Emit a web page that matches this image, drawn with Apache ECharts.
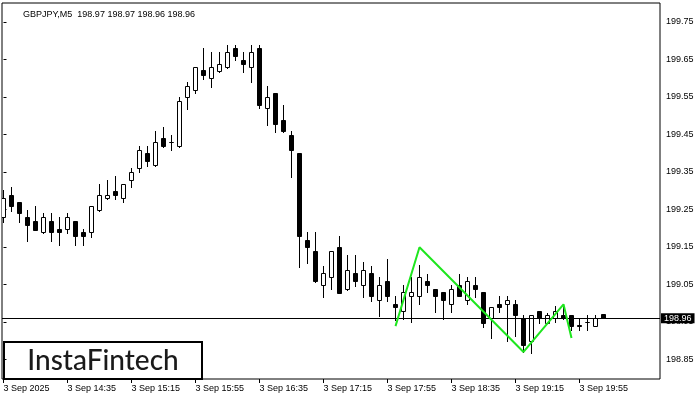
<!DOCTYPE html>
<html>
<head>
<meta charset="utf-8">
<script src="https://cdn.jsdelivr.net/npm/echarts@6/dist/echarts.min.js"></script>
<style>
html,body{margin:0;padding:0;background:#fff;}
#c{width:700px;height:400px;}
</style>
</head>
<body>
<div id="c"></div>
<script>
const symbol = 'GBPJPY,M5';
const xTickLabels = ['3 Sep 2025','3 Sep 14:35','3 Sep 15:15','3 Sep 15:55','3 Sep 16:35','3 Sep 17:15','3 Sep 17:55','3 Sep 18:35','3 Sep 19:15','3 Sep 19:55'];
const yTickValues = [198.85, 198.95, 199.05, 199.15, 199.25, 199.35, 199.45, 199.55, 199.65, 199.75];

const open = [199.229,199.288,199.269,199.229,199.219,199.189,199.219,199.197,199.197,199.219,
199.189,199.189,199.247,199.279,199.298,199.279,199.327,199.359,199.399,199.366,
199.439,199.429,199.417,199.549,199.567,199.619,199.599,199.617,199.629,199.679,
199.648,199.629,199.679,199.518,199.559,199.488,199.448,199.399,199.168,199.139,
199.046,199.069,199.149,199.037,199.079,199.046,199.079,199.006,199.059,198.997,
198.977,199.019,199.019,199.059,199.037,199.029,198.997,199.048,199.008,199.048,
199.029,198.959,198.997,198.997,198.997,198.959,198.899,198.979,198.947,198.959,
198.968,198.968,198.940,198.949,198.939,198.97];
const high = [199.301,199.310,199.270,199.248,199.259,199.241,199.241,199.230,199.241,199.220,
199.197,199.260,199.317,199.328,199.339,199.318,199.359,199.419,199.419,199.459,
199.469,199.447,199.549,199.589,199.629,199.679,199.669,199.669,199.688,199.688,
199.669,199.688,199.688,199.578,199.560,199.528,199.459,199.400,199.189,199.189,
199.099,199.140,199.179,199.128,199.128,199.109,199.099,199.069,199.119,199.019,
199.048,199.069,199.101,199.079,199.038,199.030,199.048,199.079,199.069,199.069,
199.030,198.990,199.019,199.019,199.008,198.968,198.969,198.980,198.975,198.992,
198.990,198.969,198.959,198.968,198.968,198.97];
const low = [199.217,199.246,199.217,199.166,199.194,199.188,199.166,199.155,199.188,199.155,
199.155,199.177,199.246,199.278,199.277,199.269,199.309,199.349,199.366,199.365,
199.416,199.408,199.416,199.518,199.559,199.598,199.577,199.616,199.628,199.648,
199.617,199.589,199.519,199.475,199.457,199.456,199.337,199.097,199.107,199.056,
199.017,199.037,199.026,199.036,199.046,199.017,199.006,198.965,199.006,198.955,
198.959,198.949,198.997,199.029,198.977,198.959,198.977,199.018,198.997,199.017,
198.937,198.907,198.977,198.899,198.912,198.870,198.867,198.947,198.946,198.949,
198.958,198.928,198.928,198.928,198.938,198.96];
const close = [199.279,199.257,199.238,199.206,199.195,199.229,199.189,199.189,199.229,199.177,
199.177,199.259,199.288,199.288,199.286,199.317,199.349,199.408,199.377,199.429,
199.417,199.428,199.538,199.578,199.629,199.606,199.629,199.637,199.669,199.657,
199.637,199.669,199.526,199.549,199.475,199.457,199.406,199.177,199.149,199.057,
199.079,199.139,199.027,199.088,199.057,199.088,199.017,199.048,199.017,198.988,
199.029,199.029,199.069,199.046,199.017,199.006,199.037,199.019,199.059,199.037,
198.947,198.989,198.989,199.008,198.966,198.886,198.968,198.959,198.968,198.979,
198.959,198.937,198.939,198.948,198.959,198.96];

// pattern line (bar index, price)
const patternIdx = [49, 52, 65, 70, 71];
const patternPrice = [198.939, 199.149, 198.870, 198.997, 198.907];

const lastPrice = close[close.length - 1];
const candleData = open.map((o, i) => [i, o, close[i], low[i], high[i]]);
const patternData = patternIdx.map((k, i) => [k, patternPrice[i]]);
const last = open.length - 1;
const titleText = symbol + '  ' + [open[last], high[last], low[last], close[last]].map(v => v.toFixed(2)).join(' ');

const FONT = '"Liberation Sans", Arial, sans-serif';
const chart = echarts.init(document.getElementById('c'), null, {renderer: 'canvas'});

function renderCandle(params, api) {
  const k = api.value(0), o = api.value(1), c = api.value(2), l = api.value(3), h = api.value(4);
  const pO = api.coord([k, o]), pC = api.coord([k, c]);
  const pL = api.coord([k, l]), pH = api.coord([k, h]);
  const cx = Math.round(pO[0] - 0.5) + 0.5;
  const yTop = Math.round(Math.min(pO[1], pC[1]) - 0.5) + 0.5;
  const yBot = Math.round(Math.max(pO[1], pC[1]) - 0.5) + 0.5;
  const yH = Math.round(pH[1]);
  const yL = Math.round(pL[1]) + 1;
  const up = c >= o;
  return {
    type: 'group',
    children: [
      {type: 'line', shape: {x1: cx, y1: yH, x2: cx, y2: yL}, style: {stroke: '#000', lineWidth: 1}},
      {type: 'rect', shape: {x: cx - 2, y: yTop, width: 4, height: yBot - yTop},
       style: {fill: up ? '#fff' : '#000', stroke: '#000', lineWidth: 1}}
    ]
  };
}

chart.setOption({
  animation: false,
  backgroundColor: '#fff',
  title: {
    text: titleText, left: 18, top: 5,
    textStyle: {fontSize: 9, fontWeight: 'normal', color: '#000', fontFamily: FONT}
  },
  grid: {left: 2, right: 40, top: 3, bottom: 21, show: true, borderColor: '#000', borderWidth: 1, backgroundColor: 'transparent'},
  xAxis: {
    type: 'value', min: -0.1875, max: 82.0625,
    axisLine: {show: false}, splitLine: {show: false},
    axisTick: {show: true, customValues: xTickLabels.map((_, i) => i * 8), length: 4, lineStyle: {color: '#000'}},
    axisLabel: {
      customValues: xTickLabels.map((_, i) => i * 8),
      formatter: v => xTickLabels[Math.round(v / 8)],
      align: 'left', margin: 5, fontSize: 9, color: '#000', fontFamily: FONT
    }
  },
  yAxis: {
    type: 'value', position: 'right', min: 198.798, max: 199.8, scale: true,
    axisLine: {show: false}, splitLine: {show: false},
    axisTick: {show: true, customValues: yTickValues, length: 3, lineStyle: {color: '#000'}},
    axisLabel: {customValues: yTickValues, formatter: v => v.toFixed(2), margin: 6, fontSize: 9, color: '#000', fontFamily: FONT}
  },
  series: [
    {
      type: 'custom', name: 'candles', renderItem: renderCandle, clip: true,
      encode: {x: 0, y: [1, 2, 3, 4]}, data: candleData, z: 2,
      markLine: {
        silent: true, symbol: 'none',
        lineStyle: {color: '#000', width: 1, type: 'solid'},
        label: {
          show: true, position: 'end', distance: 1,
          formatter: () => lastPrice.toFixed(2),
          backgroundColor: '#000', color: '#fff', fontSize: 9, fontFamily: FONT,
          padding: [1, 3, 0, 3]
        },
        data: [{yAxis: lastPrice}]
      }
    },
    {
      type: 'line', name: 'pattern', data: patternData, symbol: 'none', z: 5,
      lineStyle: {color: '#1ee61e', width: 2}
    }
  ],
  graphic: [
    {
      type: 'group', left: 3, top: 341, z: 100,
      children: [
        {type: 'rect', shape: {x: 0, y: 0, width: 198, height: 37}, style: {fill: '#fff', stroke: '#000', lineWidth: 2}},
        {type: 'text', x: 99, y: 19, style: {text: 'InstaFintech', fill: '#1a1a1a', font: '500 28px Lato, "Open Sans", sans-serif', align: 'center', verticalAlign: 'middle'}}
      ]
    }
  ]
});
</script>
</body>
</html>
